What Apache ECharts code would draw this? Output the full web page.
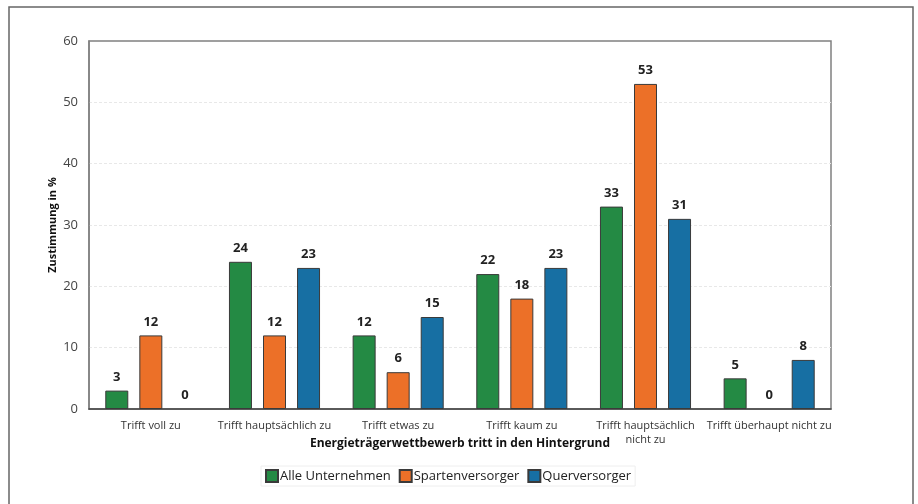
<!DOCTYPE html>
<html>
<head>
<meta charset="utf-8">
<script src="https://cdn.jsdelivr.net/npm/echarts@6/dist/echarts.min.js"></script>
<style>
  html, body { margin: 0; padding: 0; background: #fff; }
  #chart { width: 918px; height: 504px; }
</style>
</head>
<body>
<div id="chart"></div>
<script>
// Antwortkategorien und Zustimmungswerte (in %)
const categories = [
  'Trifft voll zu',
  'Trifft hauptsächlich zu',
  'Trifft etwas zu',
  'Trifft kaum zu',
  'Trifft hauptsächlich\nnicht zu',
  'Trifft überhaupt nicht zu'
];
const alleUnternehmen = [3, 24, 12, 22, 33, 5];
const spartenversorger = [12, 12, 6, 18, 53, 0];
const querversorger = [0, 23, 15, 23, 31, 8];
const yTicks = { min: 0, max: 60, interval: 10 };

const FONT = '"Open Sans", "Noto Sans", sans-serif';

function barSeries(name, values, color) {
  return {
    name: name,
    type: 'bar',
    // Null-Werte ohne Rahmen, damit keine Linie auf der Achse entsteht
    data: values.map(v => v === 0 ? { value: v, itemStyle: { borderWidth: 0 } } : v),
    barWidth: 23,
    barGap: '48%',
    itemStyle: { color: color, borderColor: '#3a3a3a', borderWidth: 1 },
    label: {
      show: true,
      position: 'top',
      distance: 7,
      fontFamily: FONT,
      fontWeight: 'bold',
      fontSize: 13,
      color: '#222'
    }
  };
}

const chart = echarts.init(document.getElementById('chart'), null, { renderer: 'canvas' });
chart.setOption({
  backgroundColor: '#fff',
  animation: false,
  graphic: [{
    type: 'rect',
    shape: { x: 9, y: 7, width: 904, height: 520 },
    style: { fill: 'none', stroke: '#666', lineWidth: 1.5 },
    silent: true,
    z: -10
  }],
  grid: {
    left: 89, right: 87, top: 41, bottom: 95,
    show: true,
    borderColor: '#808080',
    borderWidth: 1.5,
    backgroundColor: 'transparent'
  },
  legend: {
    left: 261,
    top: 466,
    itemWidth: 12,
    itemHeight: 12,
    itemGap: 8,
    icon: 'rect',
    padding: [3, 4],
    borderColor: '#eeeeee',
    borderWidth: 1,
    textStyle: { fontFamily: FONT, fontSize: 13, color: '#222', padding: [0, 0, 0, -3] },
    data: ['Alle Unternehmen', 'Spartenversorger', 'Querversorger']
  },
  xAxis: {
    type: 'category',
    data: categories,
    name: 'Energieträgerwettbewerb tritt in den Hintergrund',
    nameLocation: 'middle',
    nameGap: 29,
    nameMoveOverlap: false,
    nameTextStyle: { fontFamily: FONT, fontWeight: 'bold', fontSize: 12, color: '#111' },
    axisLine: { lineStyle: { color: '#444', width: 1.5 } },
    axisTick: { show: false },
    axisLabel: {
      interval: 0,
      margin: 10,
      fontFamily: FONT,
      fontSize: 11,
      color: '#333',
      lineHeight: 14
    }
  },
  yAxis: {
    type: 'value',
    min: yTicks.min,
    max: yTicks.max,
    interval: yTicks.interval,
    name: 'Zustimmung in %',
    nameLocation: 'middle',
    nameGap: 31,
    nameMoveOverlap: false,
    nameRotate: 90,
    nameTextStyle: { fontFamily: FONT, fontWeight: 'bold', fontSize: 11, color: '#111' },
    axisLine: { show: true, lineStyle: { color: '#808080', width: 1.5 } },
    axisTick: { show: false },
    axisLabel: { margin: 11, fontFamily: FONT, fontSize: 13, color: '#444' },
    splitLine: {
      show: true,
      showMinLine: false,
      showMaxLine: false,
      lineStyle: { color: '#e8e8e8', type: [3, 2], width: 1 }
    }
  },
  series: [
    barSeries('Alle Unternehmen', alleUnternehmen, '#248a44'),
    barSeries('Spartenversorger', spartenversorger, '#ec7028'),
    barSeries('Querversorger', querversorger, '#176fa3')
  ]
});
</script>
</body>
</html>
